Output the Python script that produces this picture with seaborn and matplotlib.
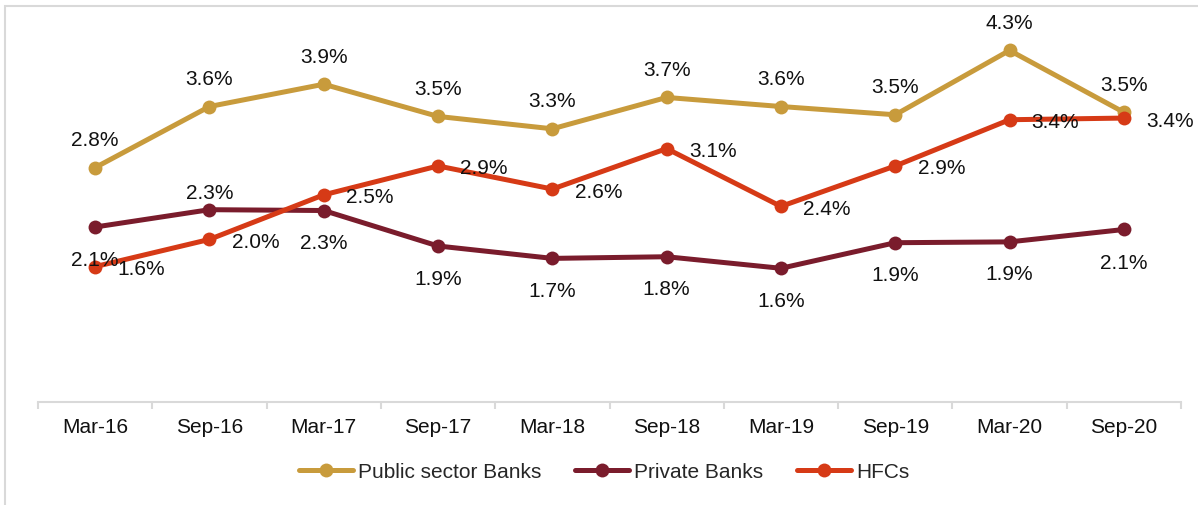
import matplotlib
matplotlib.use("Agg")
import matplotlib.pyplot as plt
from matplotlib.lines import Line2D
from matplotlib.patches import Rectangle
import pandas as pd
import seaborn as sns

# data (%)
periods = ['Mar-16', 'Sep-16', 'Mar-17', 'Sep-17', 'Mar-18',
           'Sep-18', 'Mar-19', 'Sep-19', 'Mar-20', 'Sep-20']
psb = [2.84, 3.58, 3.85, 3.46, 3.31, 3.69, 3.58, 3.48, 4.26, 3.51]
private = [2.12, 2.33, 2.32, 1.89, 1.74, 1.76, 1.62, 1.93, 1.94, 2.09]
hfc = [1.64, 1.97, 2.51, 2.86, 2.58, 3.07, 2.37, 2.86, 3.42, 3.44]
series_names = ['Public sector Banks', 'Private Banks', 'HFCs']
colors = ['#C89B3C', '#7A1C2C', '#D63A16']

df = pd.DataFrame({
    'period': periods * 3,
    'value': psb + private + hfc,
    'series': [s for s in series_names for _ in periods],
})

sns.set_style('white')
plt.rcParams['font.family'] = ['Liberation Sans', 'DejaVu Sans']

fig = plt.figure(figsize=(11.98, 5.06), dpi=100)
ax = fig.add_axes([38 / 1198, 103 / 506, (1181 - 38) / 1198, 397 / 506])

sns.lineplot(data=df, x='period', y='value', hue='series', hue_order=series_names,
             palette=colors, marker='o', markersize=10, markeredgewidth=0,
             linewidth=3.6, sort=False, legend=False, ax=ax)

# data labels
label_offsets = {
    'Public sector Banks': [(0, 28)] * 10,
    'Private Banks': [(0, -32), (0, 17), (0, -32), (0, -32), (0, -32),
                      (0, -32), (0, -32), (0, -32), (0, -32), (0, -33)],
    'HFCs': [(46, -2)] * 10,
}
for name, vals in zip(series_names, [psb, private, hfc]):
    for i, v in enumerate(vals):
        dx, dy = label_offsets[name][i]
        ax.annotate(f'{v:.1f}%', (i, v), xytext=(dx, dy), textcoords='offset pixels',
                    ha='center', va='center', fontsize=15, color='#111111', zorder=10)

ax.set_xlim(-0.5, len(periods) - 0.5)
ax.set_ylim(0, 4.81)
ax.set_xlabel('')
ax.set_ylabel('')
ax.set_yticks([])
for side in ['top', 'right', 'left']:
    ax.spines[side].set_visible(False)
ax.spines['bottom'].set_color('#D9D9D9')
ax.spines['bottom'].set_linewidth(1.5)

ax.set_xticks(range(len(periods)))
ax.set_xticklabels(periods, fontsize=15, color='#111111')
ax.set_xticks([i - 0.5 for i in range(len(periods) + 1)], minor=True)
ax.tick_params(axis='x', which='major', bottom=True, length=0, pad=11)
ax.tick_params(axis='x', which='minor', bottom=True, length=5, width=1.5,
               color='#D9D9D9', direction='out')

handles = [Line2D([0], [0], color=c, lw=3.6, marker='o', markersize=10, markeredgewidth=0)
           for c in colors]
fig.legend(handles, series_names, loc='center', bbox_to_anchor=(604 / 1198, 33 / 506),
           ncol=3, frameon=False, fontsize=15, handlelength=2.6, handletextpad=0.25,
           columnspacing=1.6)

# light frame around the figure
fig.patches.append(Rectangle((5 / 1198, -0.1), 1.2, (499 / 506) + 0.1,
                             transform=fig.transFigure, fill=False,
                             edgecolor='#D9D9D9', linewidth=1.5))

fig.savefig('out.png', dpi=100)
